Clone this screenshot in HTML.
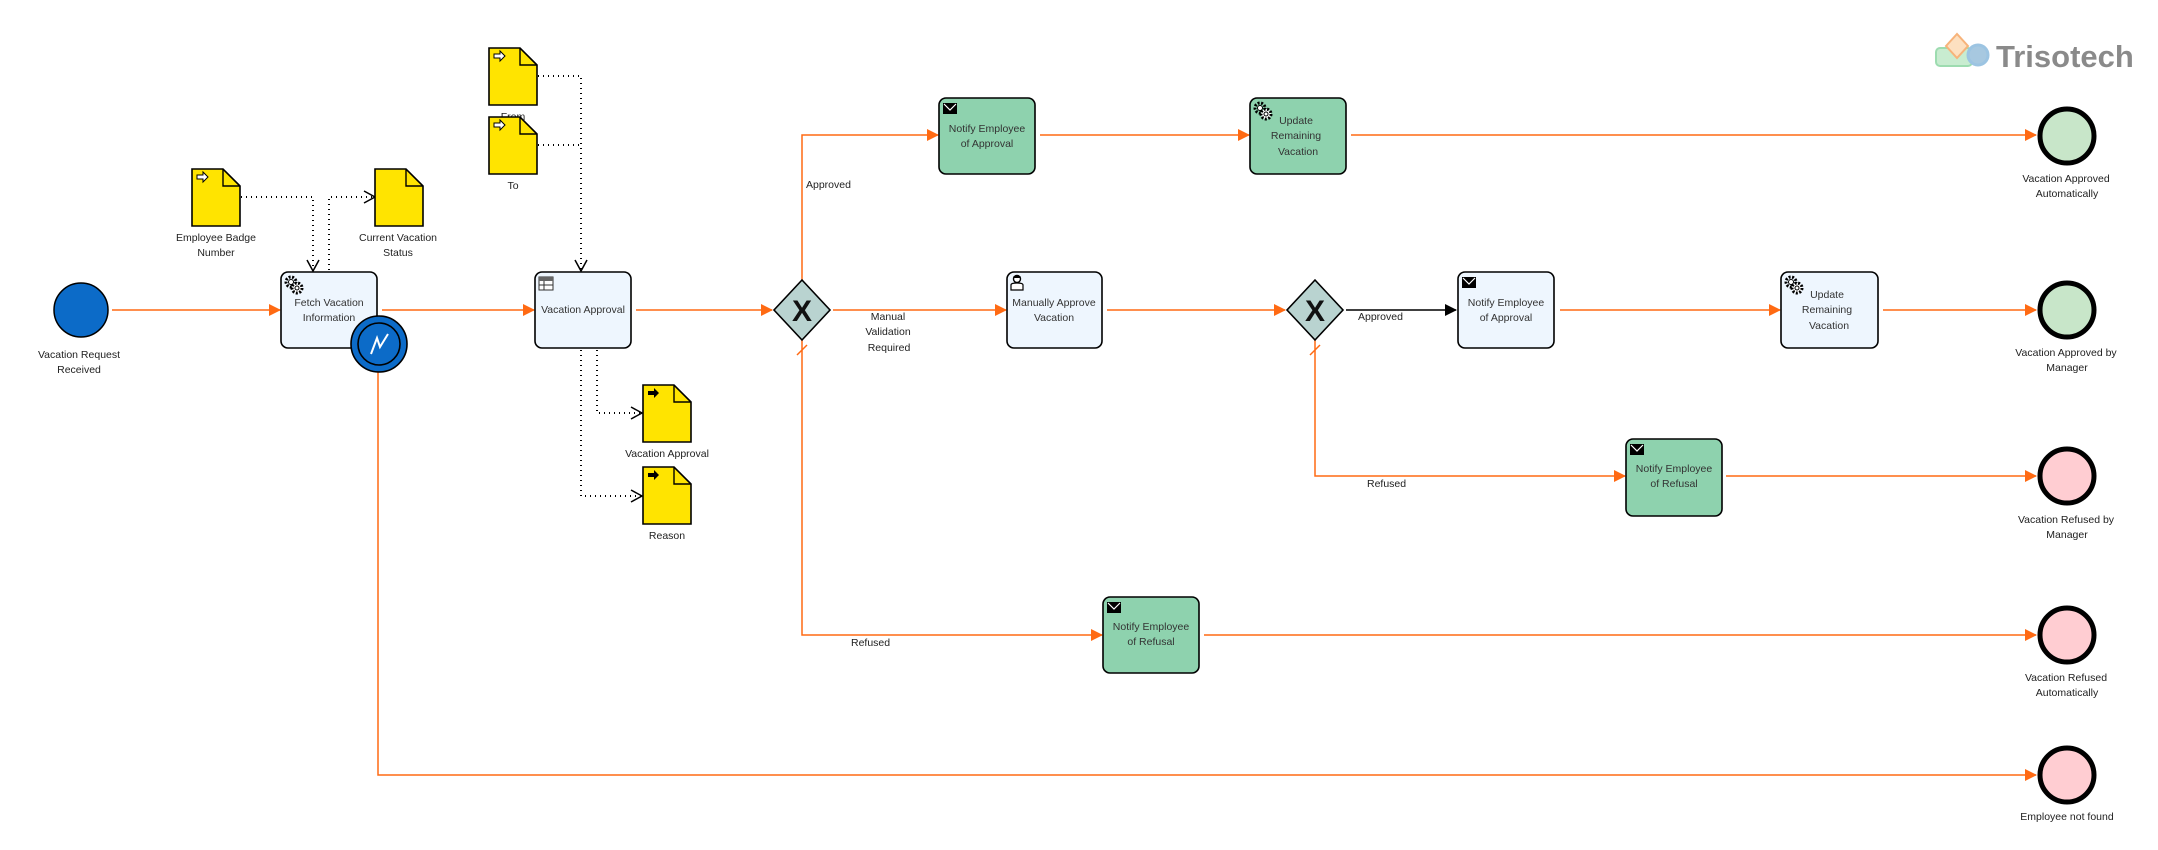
<!DOCTYPE html>
<html><head><meta charset="utf-8"><style>
html,body{margin:0;padding:0;background:#fff;}
svg{display:block;}
text{font-family:"Liberation Sans",sans-serif;font-size:10.5px;fill:#222;}
.t{fill:#333;}
</style></head><body>
<svg width="2158" height="850" viewBox="0 0 2158 850" xmlns="http://www.w3.org/2000/svg">
<defs>
<marker id="oa" markerWidth="12" markerHeight="12" refX="11" refY="6" orient="auto" markerUnits="userSpaceOnUse"><path d="M0,0 L12,6 L0,12 Z" fill="#ff6a13"/></marker>
<marker id="ba" markerWidth="12" markerHeight="12" refX="11" refY="6" orient="auto" markerUnits="userSpaceOnUse"><path d="M0,0 L12,6 L0,12 Z" fill="#000"/></marker>
<marker id="open" markerWidth="14" markerHeight="14" refX="12" refY="7" orient="auto" markerUnits="userSpaceOnUse"><path d="M1,1 L12,7 L1,13" fill="none" stroke="#000" stroke-width="1.5"/></marker>
<g id="doc"><path d="M0,0 H31 L48,17 V57 H0 Z" fill="#ffe400" stroke="#000" stroke-width="1.6"/><path d="M31,0 V17 H48" fill="none" stroke="#000" stroke-width="1.4"/></g>
<g id="inarrow"><path d="M3,5 H9 V2 L14,7 L9,12 V9 H3 Z" fill="#fff" stroke="#000" stroke-width="1"/></g>
<g id="outarrow"><path d="M3,5 H9 V2 L14,7 L9,12 V9 H3 Z" fill="#000"/></g>
<g id="env"><rect x="0" y="0" width="14" height="11" fill="#000"/><path d="M1,1 L7,7 L13,1" fill="none" stroke="#fff" stroke-width="1.2"/></g>
<g id="gear"><circle cx="7" cy="7" r="5" fill="none" stroke="#000" stroke-width="3" stroke-dasharray="2 1.5"/><circle cx="7" cy="7" r="2.5" fill="#fff" stroke="#000"/><circle cx="13" cy="13" r="5" fill="#fff" stroke="#000" stroke-width="3" stroke-dasharray="2 1.5"/><circle cx="13" cy="13" r="2" fill="#fff" stroke="#000"/></g>
</defs>

<g fill="none" stroke="#ff6a13" stroke-width="1.5">
<path d="M112,310 H280" marker-end="url(#oa)"/>
<path d="M382,310 H534" marker-end="url(#oa)"/>
<path d="M636,310 H772" marker-end="url(#oa)"/>
<path d="M802,281 V135 H938" marker-end="url(#oa)"/>
<path d="M1040,135 H1249" marker-end="url(#oa)"/>
<path d="M1351,135 H2036" marker-end="url(#oa)"/>
<path d="M833,310 H1006" marker-end="url(#oa)"/>
<path d="M1107,310 H1285" marker-end="url(#oa)"/>
<path d="M1560,310 H1780" marker-end="url(#oa)"/>
<path d="M1883,310 H2036" marker-end="url(#oa)"/>
<path d="M1315,339 V476 H1625" marker-end="url(#oa)"/>
<path d="M1726,476 H2036" marker-end="url(#oa)"/>
<path d="M802,339 V635 H1102" marker-end="url(#oa)"/>
<path d="M1204,635 H2036" marker-end="url(#oa)"/>
<path d="M378,372 V775 H2036" marker-end="url(#oa)"/>
<path d="M797,355 L807,345 M1310,355 L1320,345"/>
</g>
<path d="M1346,310 H1456" fill="none" stroke="#000" stroke-width="1.5" marker-end="url(#ba)"/>

<g fill="none" stroke="#000" stroke-width="2" stroke-dasharray="1 4">
<path d="M241,197 H313 V271" marker-end="url(#open)"/>
<path d="M329,270 V197 H375" marker-end="url(#open)"/>
<path d="M538,76 H581 V271" marker-end="url(#open)"/>
<path d="M538,145 H581"/>
<path d="M597,350 V413 H642" marker-end="url(#open)"/>
<path d="M581,350 V496 H642" marker-end="url(#open)"/>
</g>

<use href="#doc" x="192" y="169"/><use href="#inarrow" x="194" y="170"/>
<text x="216" y="241" text-anchor="middle">Employee Badge</text>
<text x="216" y="256" text-anchor="middle">Number</text>
<use href="#doc" x="375" y="169"/>
<text x="398" y="241" text-anchor="middle">Current Vacation</text>
<text x="398" y="256" text-anchor="middle">Status</text>
<text x="513" y="120" text-anchor="middle">From</text>
<use href="#doc" x="489" y="48"/><use href="#inarrow" x="491" y="49"/>
<use href="#doc" x="489" y="117"/><use href="#inarrow" x="491" y="118"/>
<text x="513" y="189" text-anchor="middle">To</text>
<use href="#doc" x="643" y="385"/><use href="#outarrow" x="645" y="386"/>
<text x="667" y="457" text-anchor="middle">Vacation Approval</text>
<use href="#doc" x="643" y="467"/><use href="#outarrow" x="645" y="468"/>
<text x="667" y="539" text-anchor="middle">Reason</text>

<circle cx="81" cy="310" r="27" fill="#0c6bc8" stroke="#000" stroke-width="1.5"/>
<text x="79" y="358" text-anchor="middle">Vacation Request</text>
<text x="79" y="373" text-anchor="middle">Received</text>

<g stroke="#000" stroke-width="1.6">
<rect x="281" y="272" width="96" height="76" rx="7" fill="#eef6fe"/>
<rect x="535" y="272" width="96" height="76" rx="7" fill="#eef6fe"/>
<rect x="939" y="98" width="96" height="76" rx="7" fill="#8ed2ae"/>
<rect x="1250" y="98" width="96" height="76" rx="7" fill="#8ed2ae"/>
<rect x="1007" y="272" width="95" height="76" rx="7" fill="#eef6fe"/>
<rect x="1458" y="272" width="96" height="76" rx="7" fill="#eef6fe"/>
<rect x="1781" y="272" width="97" height="76" rx="7" fill="#eef6fe"/>
<rect x="1626" y="439" width="96" height="77" rx="7" fill="#8ed2ae"/>
<rect x="1103" y="597" width="96" height="76" rx="7" fill="#8ed2ae"/>
</g>
<use href="#gear" x="284" y="275"/>
<text x="329" y="306" text-anchor="middle" class="t">Fetch Vacation</text>
<text x="329" y="321" text-anchor="middle" class="t">Information</text>
<rect x="539" y="277" width="14" height="13" fill="#fff" stroke="#333"/><rect x="539" y="277" width="14" height="4" fill="#666"/><path d="M539,285 H553 M544,281 V290" stroke="#333"/>
<text x="583" y="313" text-anchor="middle" class="t">Vacation Approval</text>
<use href="#env" x="943" y="103"/>
<text x="987" y="132" text-anchor="middle" class="t">Notify Employee</text>
<text x="987" y="147" text-anchor="middle" class="t">of Approval</text>
<use href="#gear" x="1253" y="101"/>
<text x="1296" y="124" text-anchor="middle" class="t">Update</text>
<text x="1296" y="139" text-anchor="middle" class="t">Remaining</text>
<text x="1298" y="155" text-anchor="middle" class="t">Vacation</text>
<g transform="translate(1010,275)"><circle cx="7" cy="4" r="3.5" fill="#fff" stroke="#000" stroke-width="1.4"/><path d="M3.5,3 H10.5 V1 H3.5Z" fill="#000"/><path d="M1,15 V10 Q1,8 7,8 Q13,8 13,10 V15 Z" fill="#fff" stroke="#000" stroke-width="1.2"/></g>
<text x="1054" y="306" text-anchor="middle" class="t">Manually Approve</text>
<text x="1054" y="321" text-anchor="middle" class="t">Vacation</text>
<use href="#env" x="1462" y="277"/>
<text x="1506" y="306" text-anchor="middle" class="t">Notify Employee</text>
<text x="1506" y="321" text-anchor="middle" class="t">of Approval</text>
<use href="#gear" x="1784" y="275"/>
<text x="1827" y="298" text-anchor="middle" class="t">Update</text>
<text x="1827" y="313" text-anchor="middle" class="t">Remaining</text>
<text x="1829" y="329" text-anchor="middle" class="t">Vacation</text>
<use href="#env" x="1630" y="444"/>
<text x="1674" y="472" text-anchor="middle" class="t">Notify Employee</text>
<text x="1674" y="487" text-anchor="middle" class="t">of Refusal</text>
<use href="#env" x="1107" y="602"/>
<text x="1151" y="630" text-anchor="middle" class="t">Notify Employee</text>
<text x="1151" y="645" text-anchor="middle" class="t">of Refusal</text>

<circle cx="379" cy="344" r="28" fill="#0c6bc8" stroke="#000" stroke-width="1.6"/>
<circle cx="379" cy="344" r="21" fill="none" stroke="#000" stroke-width="1.6"/>
<path d="M371,354 L377,338 L380,347 L388,334" fill="none" stroke="#fff" stroke-width="2"/>

<g stroke="#000" stroke-width="1.6" fill="#b9d3d0">
<path d="M802,280 L830,310 L802,340 L774,310 Z"/>
<path d="M1315,280 L1343,310 L1315,340 L1287,310 Z"/>
</g>
<text x="802" y="321" text-anchor="middle" style="font-size:30px;font-weight:bold;fill:#111">X</text>
<text x="1315" y="321" text-anchor="middle" style="font-size:30px;font-weight:bold;fill:#111">X</text>

<text x="806" y="188">Approved</text>
<text x="888" y="320" text-anchor="middle">Manual</text>
<text x="888" y="335" text-anchor="middle">Validation</text>
<text x="889" y="351" text-anchor="middle">Required</text>
<text x="1358" y="320">Approved</text>
<text x="1367" y="487">Refused</text>
<text x="851" y="646">Refused</text>

<g stroke="#000" stroke-width="5">
<circle cx="2067" cy="136" r="27" fill="#c8e6c9"/>
<circle cx="2067" cy="310" r="27" fill="#c8e6c9"/>
<circle cx="2067" cy="476" r="27" fill="#ffcdd2"/>
<circle cx="2067" cy="635" r="27" fill="#ffcdd2"/>
<circle cx="2067" cy="775" r="27" fill="#ffcdd2"/>
</g>
<g text-anchor="middle">
<text x="2066" y="182">Vacation Approved</text>
<text x="2067" y="197">Automatically</text>
<text x="2066" y="356">Vacation Approved by</text>
<text x="2067" y="371">Manager</text>
<text x="2066" y="523">Vacation Refused by</text>
<text x="2067" y="538">Manager</text>
<text x="2066" y="681">Vacation Refused</text>
<text x="2067" y="696">Automatically</text>
<text x="2067" y="820">Employee not found</text>
</g>

<g>
<rect x="1936" y="48" width="36" height="18" rx="4" fill="#c8ecd0" stroke="#9ddcb0" stroke-width="2"/>
<path d="M1946,46 L1957,34 L1968,46 L1957,58 Z" fill="#fde0c0" stroke="#f7b37a" stroke-width="2"/>
<circle cx="1978" cy="55" r="10" fill="#a7c8e0" stroke="#9cc4e2" stroke-width="3"/>
<text x="1996" y="67" style="font-size:31px;font-weight:bold;fill:#8a8a8a">Trisotech</text>
</g>
</svg>
</body></html>
